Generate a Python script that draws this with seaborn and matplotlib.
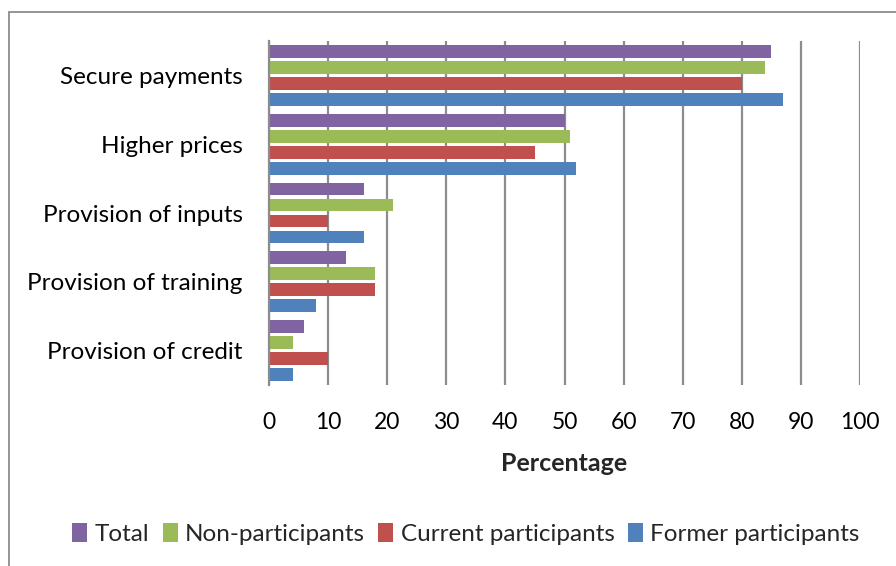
import matplotlib
matplotlib.use("Agg")
import matplotlib.pyplot as plt
import seaborn as sns
import pandas as pd
from matplotlib.patches import Rectangle, Patch

categories = ["Secure payments", "Higher prices", "Provision of inputs",
              "Provision of training", "Provision of credit"]
series = ["Total", "Non-participants", "Current participants", "Former participants"]
total = [85, 50, 16, 13, 6]
non_participants = [84, 51, 21, 18, 4]
current_participants = [80, 45, 10, 18, 10]
former_participants = [87, 52, 16, 8, 4]
colors = ["#8064A2", "#9BBB59", "#C0504D", "#4F81BD"]
xticks = [0, 10, 20, 30, 40, 50, 60, 70, 80, 90, 100]

rows = []
for s, vals in zip(series, [total, non_participants, current_participants, former_participants]):
    for c, v in zip(categories, vals):
        rows.append({"Category": c, "Series": s, "Value": v})
df = pd.DataFrame(rows)

sns.set_theme(style="white")
plt.rcParams["font.family"] = ["Lato", "DejaVu Sans"]

W, H = 896, 566
fig = plt.figure(figsize=(W / 100, H / 100), dpi=100)
ax = fig.add_axes([269 / W, 1 - 385 / H, (860 - 269) / W, (385 - 41) / H])

sns.barplot(data=df, x="Value", y="Category", hue="Series", order=categories,
            hue_order=series, palette=colors, orient="h", width=0.93, gap=0.2,
            ax=ax, legend=False, saturation=1, edgecolor="none")

ax.set_xlim(0, 100)
ax.set_ylim(4.5, -0.5)
ax.set_xticks(xticks)
ax.set_xticklabels([str(t) for t in xticks])
ax.xaxis.grid(True, color="#8c8c8c", linewidth=1.6)
ax.yaxis.grid(False)
ax.set_axisbelow(True)
for side in ["top", "right", "bottom"]:
    ax.spines[side].set_visible(False)
ax.spines["left"].set_color("#8c8c8c")
ax.spines["left"].set_linewidth(1.6)
ax.tick_params(axis="x", length=0, pad=19.5, labelsize=16.5, colors="black")
ax.tick_params(axis="y", length=0, pad=19, labelsize=17.5, colors="black")
ax.set_ylabel("")
ax.set_xlabel("Percentage", fontsize=18, fontweight="bold", labelpad=13.5)

# outer chart border
fig.patches.append(Rectangle((9 / W, -0.05), 1.2, 1 - 12 / H + 0.05,
                             transform=fig.transFigure, fill=False,
                             edgecolor="#8c8c8c", linewidth=1.3))

handles = [Patch(facecolor=c, edgecolor="none") for c in colors]
fig.legend(handles, series, loc="center", bbox_to_anchor=(466 / W, 1 - 534 / H),
           ncol=4, frameon=False, fontsize=17.5, handlelength=0.62, handleheight=0.85,
           handletextpad=0.3, columnspacing=0.55)

fig.savefig("out.png", dpi=100)
